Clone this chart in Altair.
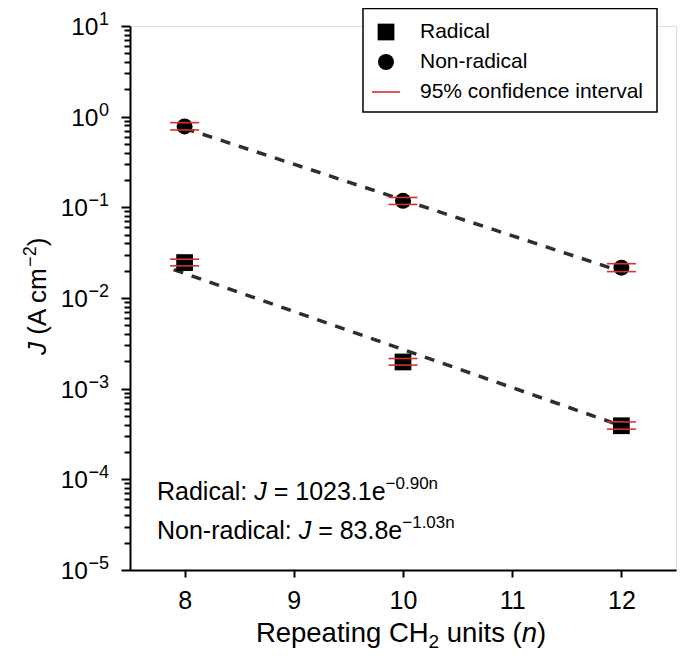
import altair as alt
import pandas as pd

# ---------------- data ----------------
n_vals = [8, 10, 12]
radical_J = [0.0246, 0.00197, 0.00039]
radical_lo = [0.0226, 0.00182, 0.000357]
radical_hi = [0.0268, 0.00215, 0.00043]
nonrad_J = [0.78, 0.118, 0.0216]
nonrad_lo = [0.713, 0.1076, 0.01955]
nonrad_hi = [0.859, 0.1285, 0.0239]
radical_fit_n = [7.9, 12]
radical_fit_J = [0.0206, 0.00039]
nonrad_fit_n = [8, 12]
nonrad_fit_J = [0.743, 0.0196]
x_ticks = [8, 9, 10, 11, 12]
y_major = [10, 1, 0.1, 0.01, 0.001, 0.0001, 0.00001]
y_exp = ["1", "0", "\u22121", "\u22122", "\u22123", "\u22124", "\u22125"]
legend_labels = ["Radical", "Non-radical", "95% confidence interval"]

# ---------------- style ----------------
FONT = "Liberation Sans"
RED = "#d7302f"
DASH = "#2e2e2e"
W, H = 546, 544
PAD = {"left": 122, "top": 18, "right": 1, "bottom": 88}

METRIC = {
    "0": .556, "1": .556, "2": .556, "3": .556, "4": .556, "5": .556, "6": .556,
    "7": .556, "8": .556, "9": .556, " ": .278, ".": .278, ":": .278, "(": .333,
    ")": .333, "=": .584, "\u2212": .584, "-": .333, "%": .889,
    "a": .556, "b": .556, "c": .5, "d": .556, "e": .556, "f": .278, "g": .556,
    "h": .556, "i": .222, "j": .222, "k": .5, "l": .222, "m": .833, "n": .556,
    "o": .556, "p": .556, "q": .556, "r": .333, "s": .5, "t": .278, "u": .556,
    "v": .5, "w": .722, "x": .5, "y": .5, "z": .5,
    "A": .667, "C": .722, "H": .722, "J": .5, "N": .722, "R": .722,
}


def tw(t, s):
    return sum(METRIC.get(ch, .556) for ch in t) * s


ONE = alt.Data(values=[{"a": 1}])


def rich(x, y, pieces, angle=0, center=False):
    """pieces: (text, size, italic, dy); SVG drops edge spaces, so they become offsets."""
    total = sum(tw(t, s) for t, s, it, dy in pieces)
    off = -total / 2 if center else 0
    out = []
    for t, s, it, dy in pieces:
        lead = len(t) - len(t.lstrip(" "))
        body = t.strip(" ")
        if body:
            out.append(
                alt.Chart(ONE).mark_text(
                    text=body, font=FONT, fontSize=s,
                    fontStyle="italic" if it else "normal",
                    align="left", baseline="alphabetic", dx=off + tw(" " * lead, s),
                    dy=dy, angle=angle, color="black",
                ).encode(x=alt.value(x), y=alt.value(y))
            )
        off += tw(t, s)
    return out


minor = [m * 10.0 ** e for e in range(-5, 1) for m in range(2, 10)]

xs = alt.Scale(domain=[7.5, 12.5], nice=False, zero=False)
ys = alt.Scale(type="log", domain=[1e-5, 10], nice=False)

x_axis = alt.Axis(values=x_ticks, title=None, grid=False, labelFont=FONT,
                  labelFontSize=25, labelColor="black", labelPadding=11,
                  tickSize=7, tickWidth=2, tickColor="black", domainWidth=2,
                  domainColor="black", labelFlush=False)
y_axis = alt.Axis(values=y_major + minor, title=None, grid=False, labels=False,
                  tickSize={"condition": {"test": "abs(log(datum.value)/LN10 - round(log(datum.value)/LN10)) < 0.001", "value": 9}, "value": 6},
                  tickWidth=2, tickColor="black", domainWidth=2, domainColor="black")


def X(f):
    return alt.X(f, type="quantitative", scale=xs, axis=x_axis)


def Y(f):
    return alt.Y(f, type="quantitative", scale=ys, axis=y_axis)


pts = pd.DataFrame({
    "n": n_vals * 2,
    "J": radical_J + nonrad_J,
    "lo": radical_lo + nonrad_lo,
    "hi": radical_hi + nonrad_hi,
    "series": ["Radical"] * 3 + ["Non-radical"] * 3,
})
fits = pd.DataFrame({
    "n": radical_fit_n + nonrad_fit_n,
    "J": radical_fit_J + nonrad_fit_J,
    "series": ["Radical"] * 2 + ["Non-radical"] * 2,
})

fit_layer = alt.Chart(fits).mark_line(color=DASH, strokeWidth=3.5, strokeDash=[10, 9]).encode(
    x=X("n"), y=Y("J"), detail="series:N")
sq_layer = alt.Chart(pts).transform_filter("datum.series == 'Radical'").mark_point(
    shape="square", filled=True, size=280, color="black", opacity=1).encode(x=X("n"), y=Y("J"))
ci_layer = alt.Chart(pts).transform_filter("datum.series == 'Non-radical'").mark_point(
    shape="circle", filled=True, size=255, color="black", opacity=1).encode(x=X("n"), y=Y("J"))
cap_lo = alt.Chart(pts).mark_tick(orient="horizontal", size=29, thickness=1.6, color=RED, opacity=1).encode(
    x=X("n"), y=Y("lo"))
cap_hi = alt.Chart(pts).mark_tick(orient="horizontal", size=29, thickness=1.6, color=RED, opacity=1).encode(
    x=X("n"), y=Y("hi"))

# y tick labels 10^k
ytab = pd.DataFrame({"val": y_major, "exp": y_exp})
EXP_SIZE = 18
LAB_X = -21
ten_pos = alt.Chart(ytab).transform_filter("length(datum.exp) == 1").mark_text(
    text="10", font=FONT, fontSize=24.5, align="right", baseline="alphabetic",
    dx=-(tw("1", EXP_SIZE) + 0.5), dy=9, color="black").encode(x=alt.value(LAB_X), y=Y("val"))
ten_neg = alt.Chart(ytab).transform_filter("length(datum.exp) == 2").mark_text(
    text="10", font=FONT, fontSize=24.5, align="right", baseline="alphabetic",
    dx=-(tw("\u22125", EXP_SIZE) + 0.5), dy=9, color="black").encode(x=alt.value(LAB_X), y=Y("val"))
exps = alt.Chart(ytab).mark_text(
    font=FONT, fontSize=EXP_SIZE, align="right", baseline="alphabetic", dy=-1,
    color="black").encode(x=alt.value(LAB_X), y=Y("val"), text="exp:N")

# axis titles
ytitle = rich(-84, 329, [("J", 26, True, 0), (" (A cm", 26, False, 0),
                         ("\u22122", 18, False, -10), (")", 26, False, 0)], angle=270)
xtitle = rich(271, 616, [("Repeating CH", 27.5, False, 0), ("2", 19, False, 6),
                         (" units (", 27.5, False, 0), ("n", 27.5, True, 0), (")", 27.5, False, 0)],
              center=True)

# annotations
ann1 = rich(27, 474, [("Radical: ", 25, False, 0), ("J", 25, True, 0),
                      (" = 1023.1e", 25, False, 0), ("\u22120.90n", 17, False, -11)])
ann2 = rich(27, 513, [("Non-radical: ", 25, False, 0), ("J", 25, True, 0),
                      (" = 83.8e", 25, False, 0), ("\u22121.03n", 17, False, -11)])

# legend (drawn by hand)
leg_box = alt.Chart(ONE).mark_rect(fill="white", stroke="black", strokeWidth=1.5).encode(
    x=alt.value(233), x2=alt.value(527), y=alt.value(-17.5), y2=alt.value(86))
leg_sq = alt.Chart(ONE).mark_point(shape="square", filled=True, size=280, color="black", opacity=1).encode(
    x=alt.value(256), y=alt.value(6))
leg_ci = alt.Chart(ONE).mark_point(shape="circle", filled=True, size=255, color="black", opacity=1).encode(
    x=alt.value(256), y=alt.value(36))
leg_line = alt.Chart(ONE).mark_rule(color=RED, strokeWidth=1.6).encode(
    x=alt.value(242), x2=alt.value(270), y=alt.value(66))
leg_text = [
    alt.Chart(ONE).mark_text(text=t, font=FONT, fontSize=21, align="left", baseline="middle",
                             color="black").encode(x=alt.value(290), y=alt.value(yy))
    for t, yy in zip(legend_labels, [6, 36, 66])
]

chart = alt.layer(
    fit_layer, sq_layer, ci_layer, cap_lo, cap_hi, ten_pos, ten_neg, exps,
    *ytitle, *xtitle, *ann1, *ann2, leg_box, leg_sq, leg_ci, leg_line, *leg_text,
).properties(
    width=W, height=H, padding=PAD, autosize=alt.AutoSizeParams(type="none"),
).configure_view(stroke=None).configure(background="white")

chart.save("out.html", embed_options={"renderer": "svg", "actions": False})
